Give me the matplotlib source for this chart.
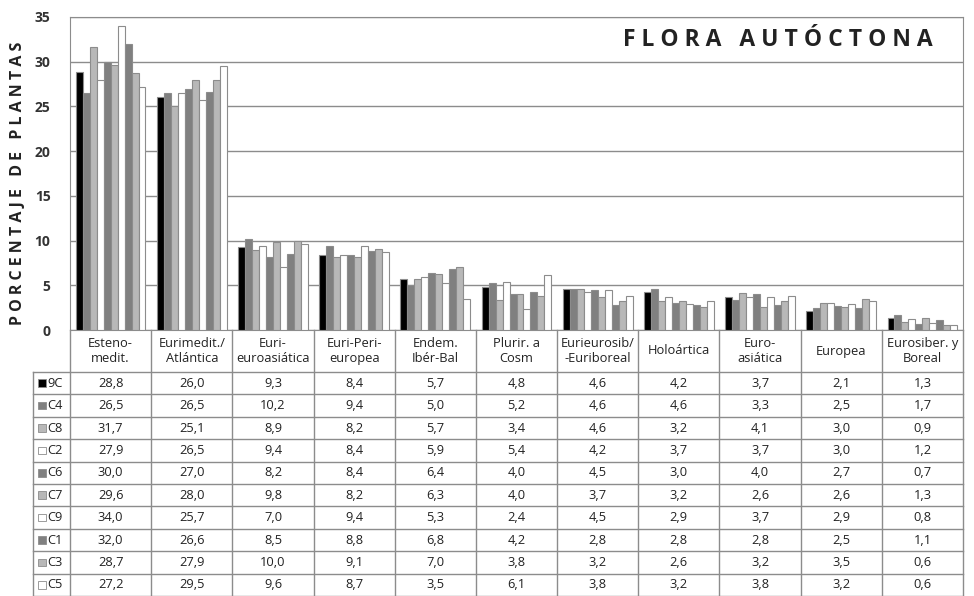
import matplotlib.pyplot as plt
from matplotlib.patches import Rectangle
import numpy as np

plt.rcParams['font.family'] = ['Open Sans', 'DejaVu Sans']

categories = ['Esteno-\nmedit.', 'Eurimedit./\nAtlántica', 'Euri-\neuroasiática',
              'Euri-Peri-\neuropea', 'Endem.\nIbér-Bal', 'Plurir. a\nCosm',
              'Eurieurosib/\n-Euriboreal', 'Holoártica', 'Euro-\nasiática',
              'Europea', 'Eurosiber. y\nBoreal']
series = ['9C', 'C4', 'C8', 'C2', 'C6', 'C7', 'C9', 'C1', 'C3', 'C5']
colors = ['#000000', '#808080', '#b8b8b8', '#ffffff', '#808080',
          '#b8b8b8', '#ffffff', '#808080', '#b8b8b8', '#ffffff']

v_9C = [28.8, 26.0, 9.3, 8.4, 5.7, 4.8, 4.6, 4.2, 3.7, 2.1, 1.3]
v_C4 = [26.5, 26.5, 10.2, 9.4, 5.0, 5.2, 4.6, 4.6, 3.3, 2.5, 1.7]
v_C8 = [31.7, 25.1, 8.9, 8.2, 5.7, 3.4, 4.6, 3.2, 4.1, 3.0, 0.9]
v_C2 = [27.9, 26.5, 9.4, 8.4, 5.9, 5.4, 4.2, 3.7, 3.7, 3.0, 1.2]
v_C6 = [30.0, 27.0, 8.2, 8.4, 6.4, 4.0, 4.5, 3.0, 4.0, 2.7, 0.7]
v_C7 = [29.6, 28.0, 9.8, 8.2, 6.3, 4.0, 3.7, 3.2, 2.6, 2.6, 1.3]
v_C9 = [34.0, 25.7, 7.0, 9.4, 5.3, 2.4, 4.5, 2.9, 3.7, 2.9, 0.8]
v_C1 = [32.0, 26.6, 8.5, 8.8, 6.8, 4.2, 2.8, 2.8, 2.8, 2.5, 1.1]
v_C3 = [28.7, 27.9, 10.0, 9.1, 7.0, 3.8, 3.2, 2.6, 3.2, 3.5, 0.6]
v_C5 = [27.2, 29.5, 9.6, 8.7, 3.5, 6.1, 3.8, 3.2, 3.8, 3.2, 0.6]
values = [v_9C, v_C4, v_C8, v_C2, v_C6, v_C7, v_C9, v_C1, v_C3, v_C5]

W, H = 974, 596
fig = plt.figure(figsize=(W / 100, H / 100), dpi=100)
ax = fig.add_axes([70 / W, 1 - 330 / H, (963 - 70) / W, (330 - 17) / H])

n = len(series)
x = np.arange(len(categories))
bw = 0.086
for i, (s, c, v) in enumerate(zip(series, colors, values)):
    ax.bar(x + (i - (n - 1) / 2) * bw, v, bw, color=c, edgecolor='#8c8c8c',
           linewidth=0.8, zorder=3)

ax.set_xlim(-0.5, len(categories) - 0.5)
ax.set_ylim(0, 35)
ax.set_yticks(range(0, 36, 5))
ax.yaxis.grid(True, color='#8c8c8c', linewidth=1.0, zorder=0)
ax.set_xticks([])
ax.tick_params(axis='y', length=0, labelsize=10, pad=14)
for lab in ax.get_yticklabels():
    lab.set_fontweight('bold')
    lab.set_color('#333333')
for side in ['top', 'right', 'left', 'bottom']:
    ax.spines[side].set_color('#8c8c8c')
ax.set_ylabel('P O R C E N T A J E   D E   P L A N T A S', fontsize=11.5,
              fontweight='bold', color='#222222')
ax.yaxis.set_label_coords(-0.049, 0.47)

# title, drawn on a white box over the grid
ax.text(len(categories) - 0.88, 32.4, 'F L O R A   A U T Ó C T O N A',
        ha='right', va='center', fontsize=16.5, fontweight='bold',
        color='#222222', zorder=5,
        bbox=dict(facecolor='white', edgecolor='none', pad=2))

# table below the bars
row_w = 37 / 81.2
tax = fig.add_axes([33 / W, 0, (963 - 33) / W, (H - 330) / H])
ncat = len(categories)
nrows = len(series)
head_h = 42 / 22.4
tax.set_xlim(-0.5 - row_w, ncat - 0.5)
tax.set_ylim(-nrows, head_h)
tax.axis('off')
lc = '#8c8c8c'
fs = 9.3
for j, cat in enumerate(categories):
    tax.text(j, head_h / 2, cat, ha='center', va='center', fontsize=fs,
             color='#222222', linespacing=1.25)
    for i in range(nrows):
        tax.text(j, -i - 0.5, f'{values[i][j]:.1f}'.replace('.', ','),
                 ha='center', va='center', fontsize=fs, color='#222222')
for j in range(ncat + 1):
    tax.plot([j - 0.5, j - 0.5], [-nrows, head_h], color=lc, lw=1, clip_on=False)
tax.plot([-0.5 - row_w, -0.5 - row_w], [-nrows, 0], color=lc, lw=1, clip_on=False)
for i in range(nrows + 1):
    tax.plot([-0.5 - row_w, ncat - 0.5], [-i, -i], color=lc, lw=1, clip_on=False)
for i, (s, c) in enumerate(zip(series, colors)):
    tax.add_patch(Rectangle((-0.5 - row_w + 0.06, -i - 0.5 - 0.17), 0.1, 0.34,
                            facecolor=c, edgecolor='#8c8c8c', lw=0.6))
    tax.text(-0.5 - row_w + 0.18, -i - 0.5, s, ha='left', va='center',
             fontsize=fs, color='#222222')

fig.savefig('out.png', dpi=100)
